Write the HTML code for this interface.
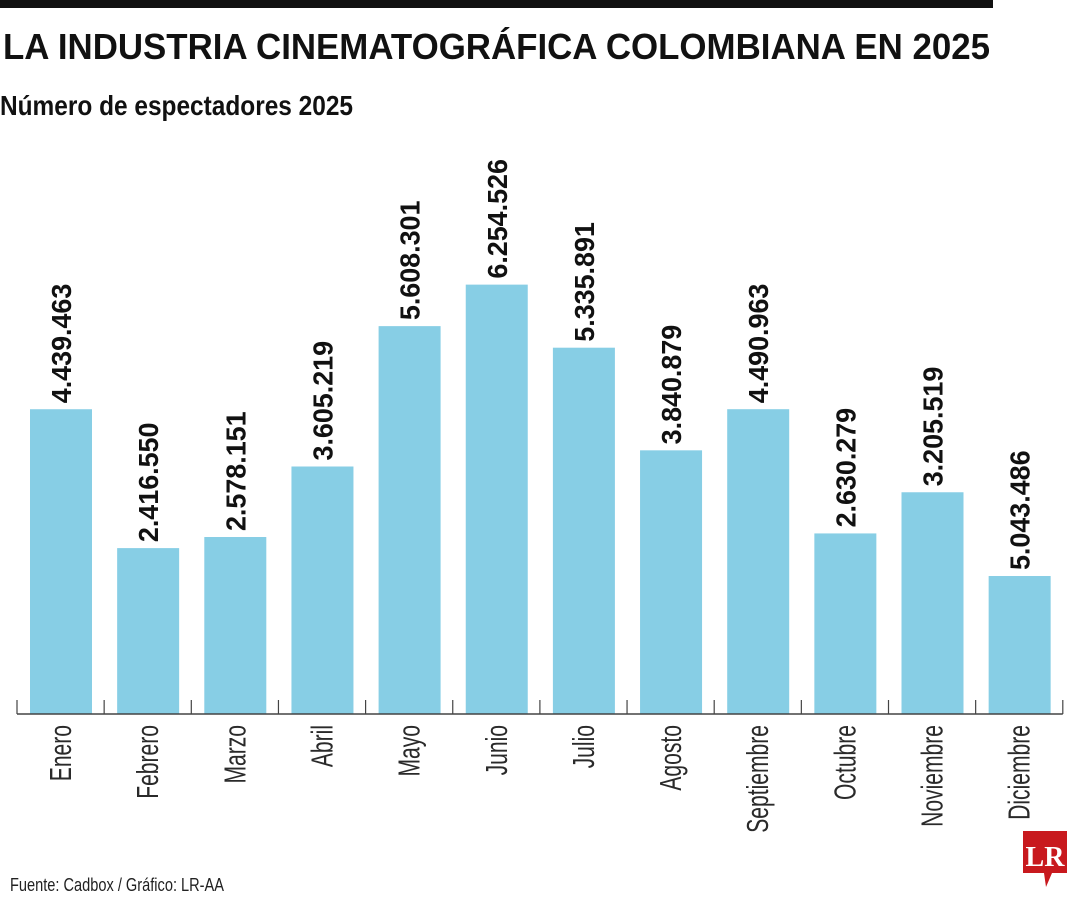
<!DOCTYPE html>
<html><head><meta charset="utf-8">
<style>
body{margin:0;background:#fff;width:1080px;height:900px;overflow:hidden;font-family:"Liberation Sans Narrow","Liberation Sans",sans-serif;}
svg{display:block}
</style></head>
<body>
<svg width="1080" height="900">
<rect x="0" y="0" width="993" height="8" fill="#111"/>
<text x="3" y="59" font-family="Liberation Sans Narrow, Liberation Sans, sans-serif" font-weight="bold" font-size="36" fill="#111" textLength="987" lengthAdjust="spacingAndGlyphs">LA INDUSTRIA CINEMATOGRÁFICA COLOMBIANA EN 2025</text>
<text x="0" y="115" font-family="Liberation Sans Narrow, Liberation Sans, sans-serif" font-weight="bold" font-size="28" fill="#111" textLength="353" lengthAdjust="spacingAndGlyphs">Número de espectadores 2025</text>
<g id="plot"></g>
<text x="10" y="891" font-family="Liberation Sans Narrow, Liberation Sans, sans-serif" font-size="18" fill="#222" textLength="214" lengthAdjust="spacingAndGlyphs">Fuente: Cadbox / Gráfico: LR-AA</text>
<g>
<path d="M1023 831 H1067 V873 H1052 L1046 887 L1044 873 H1023 Z" fill="#c8191e"/>
<text x="1045" y="866" text-anchor="middle" font-family="Liberation Serif, serif" font-weight="bold" font-size="28" fill="#fff">LR</text>
</g>
</svg>
<script>
const months=["Enero","Febrero","Marzo","Abril","Mayo","Junio","Julio","Agosto","Septiembre","Octubre","Noviembre","Diciembre"];
const values=[4439463,2416550,2578151,3605219,5650000,6254526,5335891,3840879,4440000,2630279,3230000,2010000];
const printedLabels=["4.439.463","2.416.550","2.578.151","3.605.219","5.608.301","6.254.526","5.335.891","3.840.879","4.490.963","2.630.279","3.205.519","5.043.486"];
const NS="http://www.w3.org/2000/svg";
const g=document.getElementById('plot');
const x0=17,step=87.15,base=714,scale=68.65/1e6,barW=62;
const xs=i=>x0+13+i*step;
const ys=v=>base-v*scale;
function mk(t,a){const e=document.createElementNS(NS,t);for(const k in a)e.setAttribute(k,a[k]);g.appendChild(e);return e;}
values.forEach((v,i)=>{
  const r=mk('rect',{x:xs(i),y:ys(v),width:barW,height:base-ys(v),fill:'#87cee5'});
  
  
  const cx=xs(i)+barW/2, ty=ys(v)-6;
  const t=mk('text',{x:0,y:0,transform:`translate(${cx+10},${ty}) rotate(-90) scale(0.96,1)`,'font-size':28,'font-weight':'bold',fill:'#111'});
  t.textContent=printedLabels[i];
  
  
  const m=mk('text',{x:0,y:0,transform:`translate(${cx+10},${725}) rotate(-90) scale(0.68,1)`,'font-size':31,fill:'#2a2a2a','text-anchor':'end'});
  m.textContent=months[i];
  
  
});
const ax=mk('line',{x1:x0,y1:base,x2:x0+12*step,y2:base,stroke:'#444','stroke-width':1.5});


for(let i=0;i<=12;i++){
  const tk=mk('line',{x1:x0+i*step,y1:base-14,x2:x0+i*step,y2:base,stroke:'#444','stroke-width':1.2});
  
  
}
</script>
</body></html>
